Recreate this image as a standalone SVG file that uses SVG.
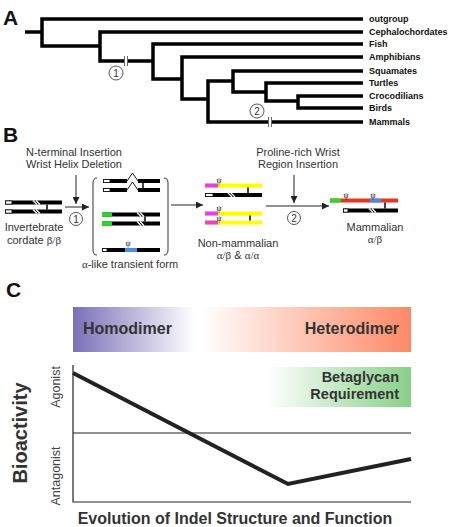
<svg xmlns="http://www.w3.org/2000/svg" width="459" height="527" viewBox="0 0 459 527">
<style>
.panel{font-family:"Liberation Sans",Arial,sans-serif;font-weight:bold;font-size:21px;fill:#111}
.tree{fill:none;stroke:#000;stroke-width:3.5;stroke-linejoin:miter}
.taxon{font-family:"Liberation Sans",Arial,sans-serif;font-weight:bold;font-size:9px;fill:#111}
.brk{stroke:#666;stroke-width:1}
.circ{fill:#fff;stroke:#555;stroke-width:1}
.cnum{font-family:"Liberation Sans",Arial,sans-serif;font-size:10px;fill:#333;text-anchor:middle}
.lbl{font-family:"Liberation Sans",Arial,sans-serif;font-size:11px;fill:#333;text-anchor:middle}
.gk{font-family:"Liberation Serif","Times New Roman",serif}
.psi{font-family:"Liberation Serif","Times New Roman",serif;font-size:8px;fill:#000;text-anchor:middle}
.arr{stroke:#222;stroke-width:1;fill:none}
.stripe{stroke:#fff;stroke-width:1.2}
.tick{stroke:#000;stroke-width:1.5}
.wbox{fill:#fff;stroke:#000;stroke-width:0.8}
.brkt{fill:none;stroke:#333;stroke-width:1}
.big{font-family:"Liberation Sans",Arial,sans-serif;font-weight:bold;fill:#333}
.axis{stroke:#222;stroke-width:1.2;fill:none}
.ylab{font-family:"Liberation Sans",Arial,sans-serif;font-size:12.5px;fill:#444;text-anchor:middle}
</style>
<defs>
<marker id="ah" viewBox="0 0 10 10" refX="10" refY="5" markerWidth="7" markerHeight="7" markerUnits="userSpaceOnUse" orient="auto">
<path d="M0,0 L10,5 L0,10 z" fill="#222"/>
</marker>
<linearGradient id="hdr" x1="0" y1="0" x2="1" y2="0">
<stop offset="0" stop-color="#7a70b8"/>
<stop offset="0.36" stop-color="#ffffff"/>
<stop offset="0.38" stop-color="#ffffff"/>
<stop offset="1" stop-color="#ff8866"/>
</linearGradient>
<linearGradient id="beta" x1="0" y1="0" x2="1" y2="0">
<stop offset="0" stop-color="#ffffff"/>
<stop offset="1" stop-color="#88cf88"/>
</linearGradient>
</defs>

<!-- Panel A -->
<text class="panel" x="3" y="25">A</text>
<g id="tree-connectors">
<path class="tree" d="M25,32 H42"/>
<path class="tree" d="M363,19 H42 V46 H100"/>
<path class="tree" d="M363,32 H100 V61 H124"/>
<path class="tree" d="M128,61 H153"/>
<path class="tree" d="M363,44 H153 V79 H182"/>
<path class="tree" d="M363,57 H182 V99 H208"/>
<path class="tree" d="M233,81 H208 V122 H268"/>
<path class="tree" d="M271,122 H363"/>
<path class="tree" d="M363,71 H233 V92 H266"/>
<path class="tree" d="M363,83 H266 V101 H298"/>
<path class="tree" d="M363,96 H298 V108 H363"/>
<line class="brk" x1="124.5" y1="56" x2="124.5" y2="66"/>
<line class="brk" x1="127.5" y1="56" x2="127.5" y2="66"/>
<line class="brk" x1="268.5" y1="117" x2="268.5" y2="127"/>
<line class="brk" x1="271.5" y1="117" x2="271.5" y2="127"/>
</g>
<g id="taxa">
<text class="taxon" x="369" y="22">outgroup</text>
<text class="taxon" x="369" y="35">Cephalochordates</text>
<text class="taxon" x="369" y="47">Fish</text>
<text class="taxon" x="369" y="60">Amphibians</text>
<text class="taxon" x="369" y="74">Squamates</text>
<text class="taxon" x="369" y="86">Turtles</text>
<text class="taxon" x="369" y="99">Crocodilians</text>
<text class="taxon" x="369" y="111">Birds</text>
<text class="taxon" x="369" y="125">Mammals</text>
</g>
<g id="event1-A"><circle class="circ" cx="116" cy="73" r="7"/><text class="cnum" x="116" y="76.5">1</text></g>
<g id="event2-A"><circle class="circ" cx="257" cy="111" r="7"/><text class="cnum" x="257" y="114.5">2</text></g>

<!-- Panel B -->
<text class="panel" x="3" y="142">B</text>
<g id="label-event1">
<text class="lbl" x="74" y="156">N-terminal Insertion</text>
<text class="lbl" x="74" y="168">Wrist Helix Deletion</text>
</g>
<g id="label-event2">
<text class="lbl" x="298" y="156">Proline-rich Wrist</text>
<text class="lbl" x="298" y="168">Region Insertion</text>
</g>

<g id="invertebrate">
<rect x="5" y="200.5" width="57" height="4" fill="#000"/>
<rect class="wbox" x="5.4" y="200.9" width="6.6" height="3.2"/>
<line class="stripe" x1="33" y1="200.5" x2="37" y2="204.5"/>
<line class="stripe" x1="36" y1="200.5" x2="40" y2="204.5"/>
<rect x="5" y="209.5" width="57" height="4" fill="#000"/>
<rect class="wbox" x="5.4" y="209.9" width="6.6" height="3.2"/>
<line class="stripe" x1="33" y1="209.5" x2="37" y2="213.5"/>
<line class="stripe" x1="36" y1="209.5" x2="40" y2="213.5"/>
<line class="tick" x1="47" y1="204.5" x2="47" y2="209.5"/>
<text class="lbl" x="34" y="231">Invertebrate</text>
<text class="lbl" x="34" y="244">cordate <tspan class="gk">β/β</tspan></text>
</g>

<g id="transient">
<path class="brkt" d="M97,178 Q93,178 93,183 V250 Q93,255 97,255"/>
<path class="brkt" d="M164,178 Q168,178 168,183 V250 Q168,255 164,255"/>
<rect x="103" y="179" width="24" height="4" fill="#000"/>
<rect class="wbox" x="103.4" y="179.4" width="6.6" height="3.2"/>
<path d="M127,181 L132.5,173 L138,181" fill="none" stroke="#000" stroke-width="0.9"/>
<rect x="138" y="179" width="22" height="4" fill="#000"/>
<rect x="103" y="188" width="24" height="4" fill="#000"/>
<rect class="wbox" x="103.4" y="188.4" width="6.6" height="3.2"/>
<path d="M127,190 L132.5,182 L138,190" fill="none" stroke="#000" stroke-width="0.9"/>
<rect x="138" y="188" width="22" height="4" fill="#000"/>
<line class="tick" x1="143" y1="183" x2="143" y2="188"/>

<rect x="102" y="212.5" width="58" height="4" fill="#000"/>
<rect x="102" y="212.5" width="10" height="4" fill="#22dd22"/>
<line class="stripe" x1="137" y1="212.5" x2="141" y2="216.5"/>
<line class="stripe" x1="140" y1="212.5" x2="144" y2="216.5"/>
<rect x="102" y="221.5" width="58" height="4" fill="#000"/>
<rect x="102" y="221.5" width="10" height="4" fill="#22dd22"/>
<line class="stripe" x1="137" y1="221.5" x2="141" y2="225.5"/>
<line class="stripe" x1="140" y1="221.5" x2="144" y2="225.5"/>
<line class="tick" x1="145" y1="216.5" x2="145" y2="221.5"/>

<rect x="102" y="248" width="58" height="4" fill="#000"/>
<rect class="wbox" x="102.4" y="248.4" width="4.6" height="3.2"/>
<rect x="125" y="248" width="12" height="4" fill="#4d8de0"/>
<text class="psi" x="128" y="246">ψ</text>
<text class="lbl" x="130" y="268"><tspan class="gk">α</tspan>-like transient form</text>
</g>

<g id="nonmammalian">
<rect x="205" y="183.5" width="57" height="4" fill="#ffff00"/>
<rect x="205" y="183.5" width="13" height="4" fill="#e840d8"/>
<text class="psi" x="219" y="182.5">ψ</text>
<rect x="205" y="193" width="57" height="4" fill="#000"/>
<rect class="wbox" x="205.4" y="193.4" width="7.6" height="3.2"/>
<line class="stripe" x1="228" y1="193" x2="232" y2="197"/>
<line class="stripe" x1="231" y1="193" x2="235" y2="197"/>
<line class="tick" x1="248" y1="187.5" x2="248" y2="193"/>
<rect x="205" y="211.5" width="57" height="4" fill="#ffff00"/>
<rect x="205" y="211.5" width="13" height="4" fill="#e840d8"/>
<text class="psi" x="219" y="210.5">ψ</text>
<rect x="205" y="220.5" width="57" height="4" fill="#ffff00"/>
<rect x="205" y="220.5" width="13" height="4" fill="#e840d8"/>
<text class="psi" x="219" y="220.5">ψ</text>
<line class="tick" x1="250" y1="215.5" x2="250" y2="220.5"/>
<text class="lbl" x="238" y="247">Non-mammalian</text>
<text class="lbl" x="238" y="259"><tspan class="gk">α/β</tspan> &amp; <tspan class="gk">α/α</tspan></text>
</g>

<g id="mammalian">
<rect x="330" y="198.5" width="68" height="4" fill="#ee3322"/>
<rect x="330" y="198.5" width="11" height="4" fill="#22dd22"/>
<rect x="370" y="198.5" width="11" height="4" fill="#4d8de0"/>
<text class="psi" x="346" y="197.5">ψ</text>
<text class="psi" x="373" y="197.5">ψ</text>
<rect x="343" y="208.5" width="55" height="4" fill="#000"/>
<rect class="wbox" x="343.4" y="208.9" width="4.6" height="3.2"/>
<line class="stripe" x1="369" y1="208.5" x2="373" y2="212.5"/>
<line class="stripe" x1="372" y1="208.5" x2="376" y2="212.5"/>
<line class="tick" x1="385" y1="202.5" x2="385" y2="208.5"/>
<text class="lbl" x="375" y="231">Mammalian</text>
<text class="lbl" x="375" y="243"><tspan class="gk">α/β</tspan></text>
</g>

<g id="connectors-B">
<line class="arr" x1="76" y1="175" x2="76" y2="204" marker-end="url(#ah)"/>
<line class="arr" x1="65" y1="207" x2="89" y2="207" marker-end="url(#ah)"/>
<line class="arr" x1="171" y1="205" x2="203" y2="205" marker-end="url(#ah)"/>
<line class="arr" x1="294" y1="175" x2="294" y2="203" marker-end="url(#ah)"/>
<line class="arr" x1="266" y1="206" x2="329" y2="206" marker-end="url(#ah)"/>
</g>
<g id="event1-B"><circle class="circ" cx="76" cy="219" r="6.5"/><text class="cnum" x="76" y="222.5">1</text></g>
<g id="event2-B"><circle class="circ" cx="294" cy="218" r="6.5"/><text class="cnum" x="294" y="221.5">2</text></g>

<!-- Panel C -->
<text class="panel" x="6" y="297">C</text>
<g id="dimer-bar">
<rect x="73" y="307" width="338" height="45" fill="url(#hdr)"/>
<text class="big" x="83" y="334" font-size="16">Homodimer</text>
<text class="big" x="399" y="334" font-size="16" text-anchor="end">Heterodimer</text>
</g>
<g id="betaglycan">
<rect x="267" y="367" width="144" height="40" fill="url(#beta)"/>
<text class="big" x="399" y="382" font-size="14.5" text-anchor="end">Betaglycan</text>
<text class="big" x="399" y="399" font-size="14.5" text-anchor="end">Requirement</text>
</g>
<g id="plot">
<path class="axis" d="M73,365 V502 H411"/>
<line class="axis" x1="73" y1="433" x2="411" y2="433"/>
<path d="M73,373 L288,484 L411,459" fill="none" stroke="#222" stroke-width="4" stroke-linejoin="miter"/>
<text class="big" font-size="20" text-anchor="middle" transform="translate(27,433) rotate(-90)" fill="#222">Bioactivity</text>
<text class="ylab" transform="translate(60,387) rotate(-90)">Agonist</text>
<text class="ylab" transform="translate(60,476) rotate(-90)">Antagonist</text>
<text class="big" x="235" y="524" font-size="16" text-anchor="middle" fill="#222">Evolution of Indel Structure and Function</text>
</g>
</svg>
